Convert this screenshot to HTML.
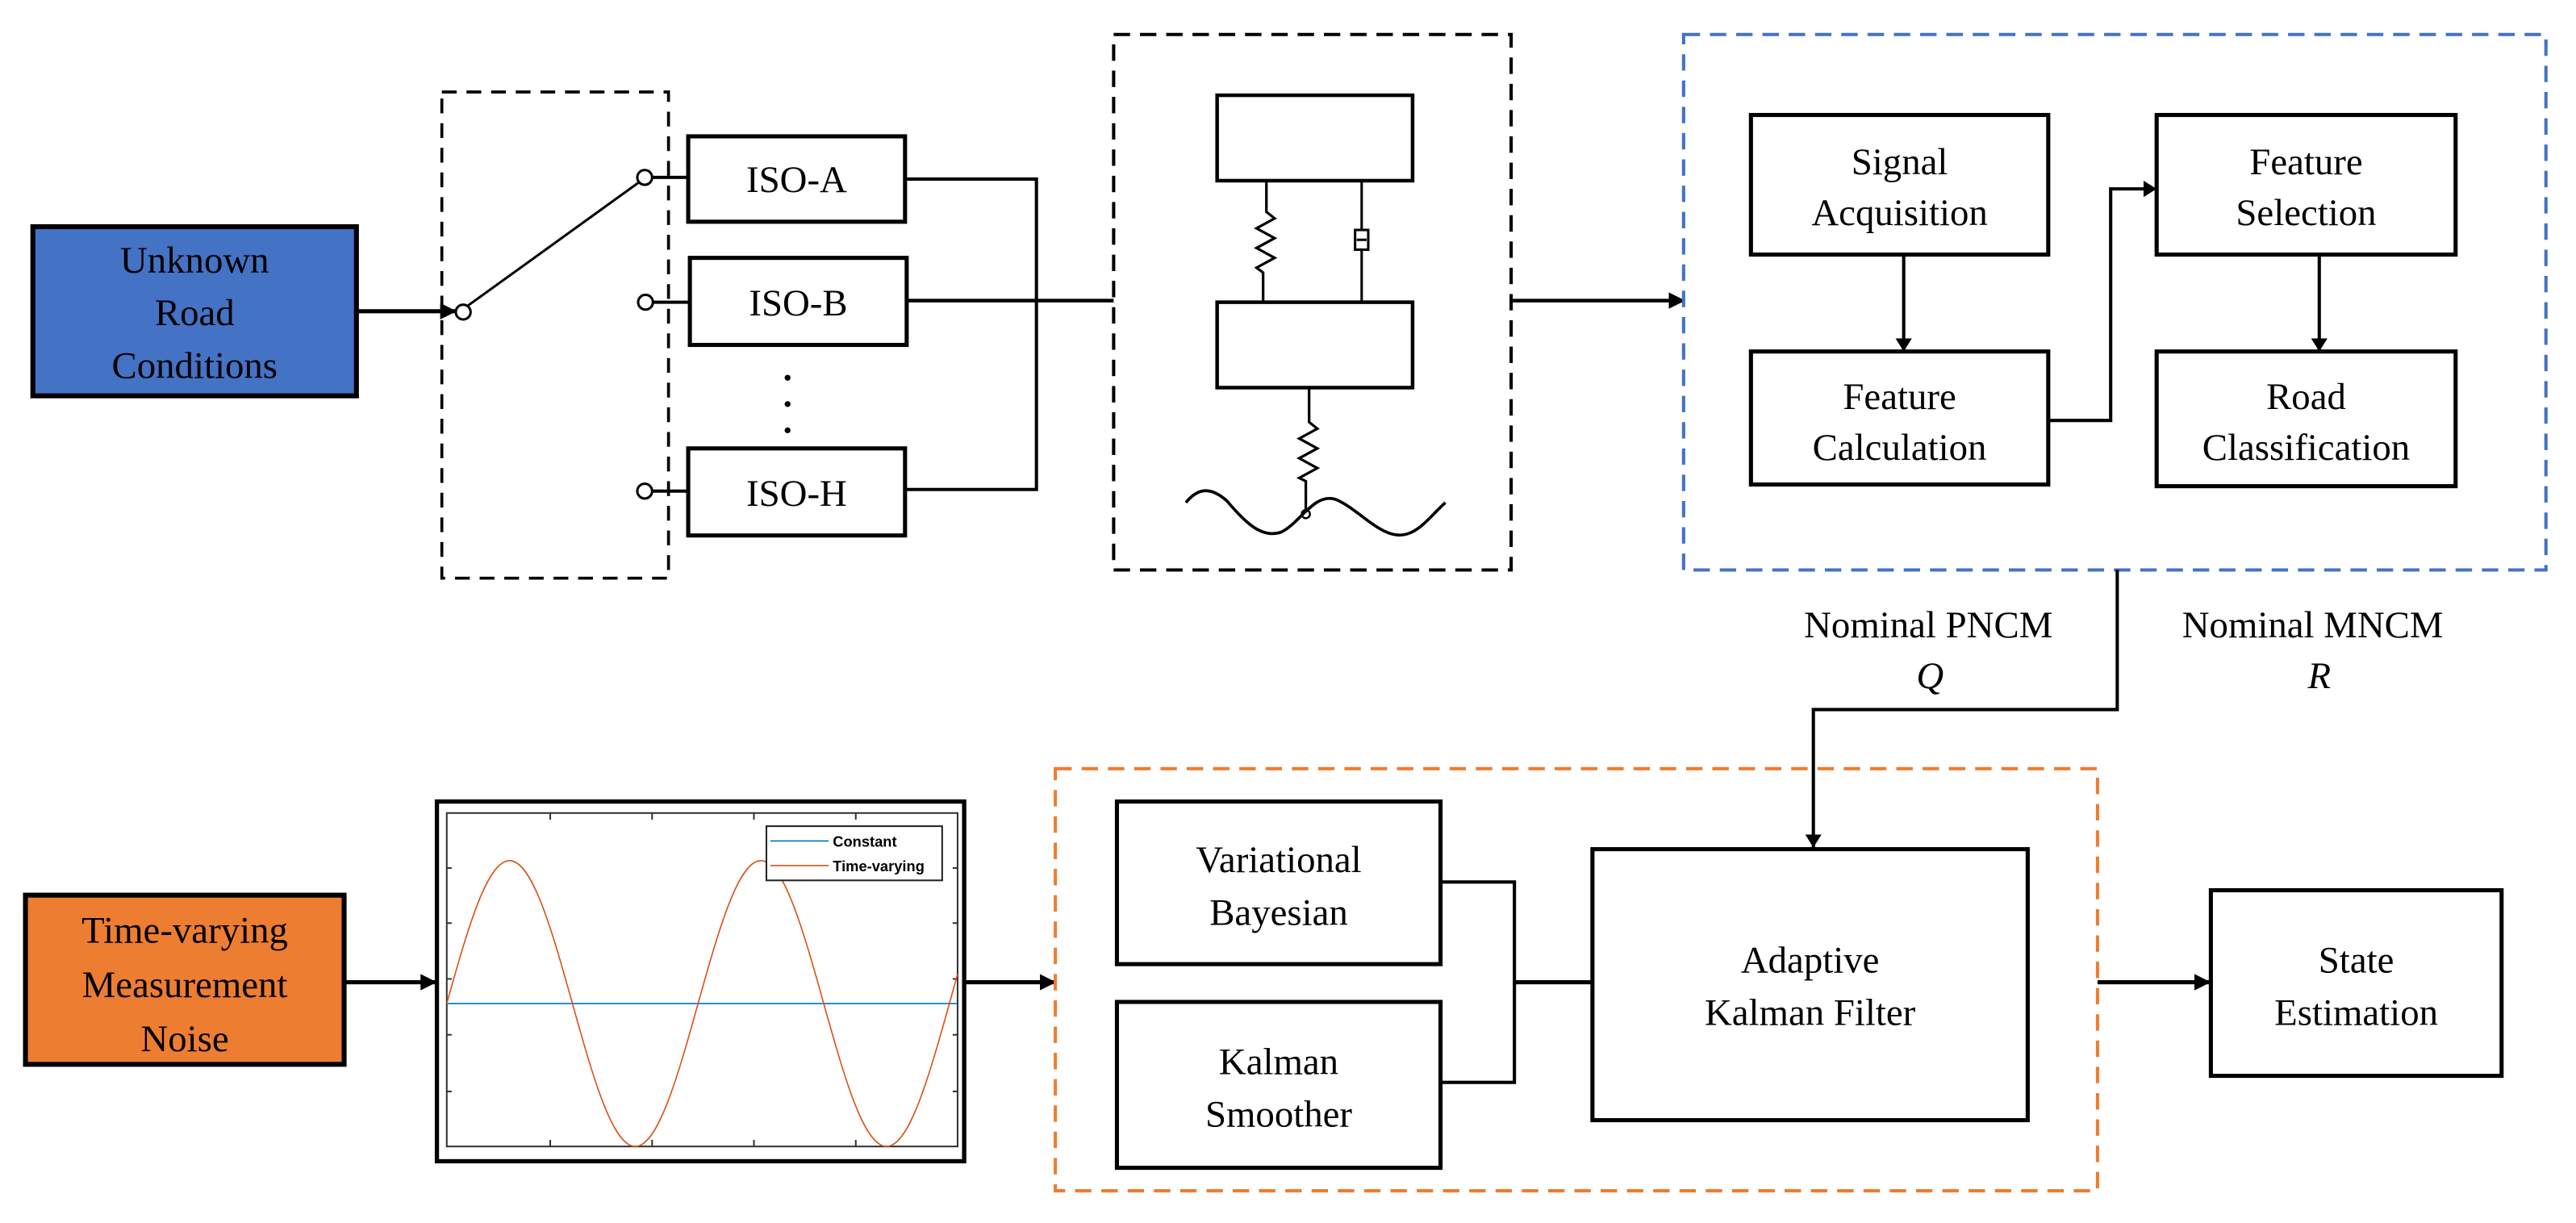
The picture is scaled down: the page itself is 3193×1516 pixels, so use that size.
<!DOCTYPE html>
<html><head><meta charset="utf-8"><style>
html,body{margin:0;padding:0;background:#fff;}
svg{display:block;}
</style></head><body>
<svg width="3193" height="1516" viewBox="0 0 1568.3 744.6" preserveAspectRatio="none" xmlns="http://www.w3.org/2000/svg">
<defs>
<marker id="ah" markerWidth="10" markerHeight="10" refX="9" refY="5" orient="auto" markerUnits="userSpaceOnUse"><path d="M0,0 L10,5 L0,10 Z" fill="#000"/></marker>
<marker id="ahs" markerWidth="8" markerHeight="10" refX="8" refY="5" orient="auto" markerUnits="userSpaceOnUse"><path d="M0,0 L8,5 L0,10 Z" fill="#000"/></marker>
</defs>
<rect x="0" y="0" width="1568.3" height="744.6" fill="#fff"/>
<g font-family="Liberation Serif, DejaVu Serif, serif" font-size="23" fill="#000">

<!-- Unknown Road Conditions -->
<rect x="20" y="138" width="197" height="103" fill="#4472c4" stroke="#000" stroke-width="3"/>
<text x="118.5" y="166" text-anchor="middle">Unknown</text>
<text x="118.5" y="198" text-anchor="middle">Road</text>
<text x="118.5" y="230" text-anchor="middle">Conditions</text>
<line x1="217" y1="189.5" x2="277" y2="189.5" stroke="#000" stroke-width="2.5" marker-end="url(#ah)"/>

<!-- switch dashed box -->
<rect x="269" y="56" width="138" height="296" fill="none" stroke="#000" stroke-width="1.8" stroke-dasharray="9,6"/>
<line x1="285" y1="186" x2="389" y2="111" stroke="#000" stroke-width="1.5"/>
<circle cx="282" cy="190" r="4.5" fill="#fff" stroke="#000" stroke-width="1.5"/>
<circle cx="392.5" cy="108" r="4.5" fill="#fff" stroke="#000" stroke-width="1.5"/>
<circle cx="393" cy="184" r="4.5" fill="#fff" stroke="#000" stroke-width="1.5"/>
<circle cx="392.5" cy="299" r="4.5" fill="#fff" stroke="#000" stroke-width="1.5"/>
<line x1="397" y1="108" x2="419" y2="108" stroke="#000" stroke-width="2"/>
<line x1="397.5" y1="184" x2="420" y2="184" stroke="#000" stroke-width="2"/>
<line x1="397" y1="299" x2="419" y2="299" stroke="#000" stroke-width="2"/>

<rect x="419" y="83" width="132" height="52" fill="#fff" stroke="#000" stroke-width="2.5"/>
<text x="485" y="117" text-anchor="middle">ISO-A</text>
<rect x="420" y="157" width="132" height="53" fill="#fff" stroke="#000" stroke-width="2.5"/>
<text x="486" y="192" text-anchor="middle">ISO-B</text>
<rect x="419" y="273" width="132" height="53" fill="#fff" stroke="#000" stroke-width="2.5"/>
<text x="485" y="308" text-anchor="middle">ISO-H</text>
<circle cx="479.5" cy="230" r="1.8" fill="#000"/>
<circle cx="479.5" cy="246" r="1.8" fill="#000"/>
<circle cx="479.5" cy="262" r="1.8" fill="#000"/>
<polyline points="551,109 631,109 631,298 551,298" fill="none" stroke="#000" stroke-width="2"/>
<line x1="552" y1="183" x2="678" y2="183" stroke="#000" stroke-width="2.2"/>

<!-- quarter car -->
<rect x="678" y="21" width="242" height="326" fill="none" stroke="#000" stroke-width="2" stroke-dasharray="10,6"/>
<rect x="741" y="58" width="119" height="52" fill="#fff" stroke="#000" stroke-width="2.2"/>
<rect x="741" y="184" width="119" height="52" fill="#fff" stroke="#000" stroke-width="2.2"/>
<polyline points="771,110 771,129 776,133 765,139 776,145 765,151 776,157 765,163 769,166 769,184" fill="none" stroke="#000" stroke-width="1.6"/>
<polyline points="829,110 829,184" fill="none" stroke="#000" stroke-width="1.5"/>
<rect x="825" y="140" width="8" height="12" fill="#fff" stroke="#000" stroke-width="1.5"/>
<line x1="826" y1="146" x2="832" y2="146" stroke="#000" stroke-width="1.5"/>
<polyline points="797,236 797,257 802,261 791,267 802,273 791,279 802,285 791,291 795,293 795,315" fill="none" stroke="#000" stroke-width="1.6"/>
<circle cx="795" cy="313" r="2.5" fill="#fff" stroke="#000" stroke-width="1.2"/>
<path d="M722,306 C730,296 738,297 747,305 C758,318 768,328 780,324 C792,318 800,300 813,304 C828,310 842,330 857,325 C866,322 872,313 880,306" fill="none" stroke="#000" stroke-width="1.8"/>
<line x1="920" y1="183" x2="1025" y2="183" stroke="#000" stroke-width="2.2" marker-end="url(#ah)"/>

<!-- blue dashed -->
<rect x="1025" y="21" width="525" height="326" fill="none" stroke="#4472c4" stroke-width="2" stroke-dasharray="10,6"/>
<rect x="1066" y="70" width="181" height="85" fill="#fff" stroke="#000" stroke-width="2.5"/>
<text x="1156.5" y="106" text-anchor="middle">Signal</text>
<text x="1156.5" y="137" text-anchor="middle">Acquisition</text>
<rect x="1066" y="214" width="181" height="81" fill="#fff" stroke="#000" stroke-width="2.5"/>
<text x="1156.5" y="249" text-anchor="middle">Feature</text>
<text x="1156.5" y="280" text-anchor="middle">Calculation</text>
<rect x="1313" y="70" width="182" height="85" fill="#fff" stroke="#000" stroke-width="2.5"/>
<text x="1404" y="106" text-anchor="middle">Feature</text>
<text x="1404" y="137" text-anchor="middle">Selection</text>
<rect x="1313" y="214" width="182" height="82" fill="#fff" stroke="#000" stroke-width="2.5"/>
<text x="1404" y="249" text-anchor="middle">Road</text>
<text x="1404" y="280" text-anchor="middle">Classification</text>
<line x1="1159" y1="155" x2="1159" y2="214" stroke="#000" stroke-width="2" marker-end="url(#ahs)"/>
<line x1="1412" y1="155" x2="1412" y2="214" stroke="#000" stroke-width="2" marker-end="url(#ahs)"/>
<polyline points="1247,256 1285,256 1285,115 1313,115" fill="none" stroke="#000" stroke-width="2" marker-end="url(#ahs)"/>

<polyline points="1289,347 1289,432 1104,432 1104,516" fill="none" stroke="#000" stroke-width="2" marker-end="url(#ahs)"/>
<text x="1174" y="388" text-anchor="middle">Nominal PNCM</text>
<text x="1175" y="419" text-anchor="middle" font-style="italic">Q</text>
<text x="1408" y="388" text-anchor="middle">Nominal MNCM</text>
<text x="1412" y="419" text-anchor="middle" font-style="italic">R</text>

<!-- Time-varying noise -->
<rect x="15.5" y="545" width="194" height="103" fill="#ed7d31" stroke="#000" stroke-width="3"/>
<text x="112.5" y="574" text-anchor="middle">Time-varying</text>
<text x="112.5" y="607" text-anchor="middle">Measurement</text>
<text x="112.5" y="640" text-anchor="middle">Noise</text>
<line x1="210" y1="598" x2="265" y2="598" stroke="#000" stroke-width="2.5" marker-end="url(#ah)"/>

<!-- plot -->
<rect x="266" y="488" width="321" height="219" fill="#fff" stroke="#000" stroke-width="2.6"/>
<rect x="272" y="495" width="311" height="203" fill="none" stroke="#333" stroke-width="1"/>
<g stroke="#333" stroke-width="1">
<line x1="335" y1="495" x2="335" y2="499"/><line x1="397" y1="495" x2="397" y2="499"/><line x1="459" y1="495" x2="459" y2="499"/><line x1="521" y1="495" x2="521" y2="499"/>
<line x1="335" y1="698" x2="335" y2="694"/><line x1="397" y1="698" x2="397" y2="694"/><line x1="459" y1="698" x2="459" y2="694"/><line x1="521" y1="698" x2="521" y2="694"/>
<line x1="272" y1="528.5" x2="275" y2="528.5"/><line x1="272" y1="562" x2="275" y2="562"/><line x1="272" y1="596" x2="275" y2="596"/><line x1="272" y1="630" x2="275" y2="630"/><line x1="272" y1="664.5" x2="275" y2="664.5"/>
<line x1="583" y1="528.5" x2="580" y2="528.5"/><line x1="583" y1="562" x2="580" y2="562"/><line x1="583" y1="596" x2="580" y2="596"/><line x1="583" y1="630" x2="580" y2="630"/><line x1="583" y1="664.5" x2="580" y2="664.5"/>
</g>
<line x1="272" y1="611" x2="583" y2="611" stroke="#0072bd" stroke-width="0.8"/>
<path d="M272,611 C284.47,566.43 296.41,524 310.25,524 C324.09,524 336.03,566.43 348.5,611 C360.97,655.57 372.91,698 386.75,698 C400.59,698 412.53,655.57 425,611 C437.47,566.43 449.41,524 463.25,524 C477.09,524 489.03,566.43 501.5,611 C513.97,655.57 525.91,698 539.75,698 C553.59,698 565.53,655.57 578,611 L583,593" fill="none" stroke="#d95319" stroke-width="0.8"/>
<rect x="466.6" y="503" width="107" height="33" fill="#fff" stroke="#222" stroke-width="1"/>
<line x1="469" y1="512" x2="504.5" y2="512" stroke="#0072bd" stroke-width="0.8"/>
<line x1="469" y1="527" x2="504.5" y2="527" stroke="#d95319" stroke-width="0.8"/>
<text x="507" y="515.5" font-family="Liberation Sans, DejaVu Sans, sans-serif" font-size="9" font-weight="bold">Constant</text>
<text x="507" y="530.5" font-family="Liberation Sans, DejaVu Sans, sans-serif" font-size="9" font-weight="bold">Time-varying</text>
<line x1="587" y1="598" x2="642" y2="598" stroke="#000" stroke-width="2.5" marker-end="url(#ah)"/>

<!-- orange dashed -->
<rect x="642.5" y="468" width="634.5" height="257" fill="none" stroke="#ed7d31" stroke-width="2" stroke-dasharray="10,6"/>
<rect x="680" y="488" width="197" height="99" fill="#fff" stroke="#000" stroke-width="2.5"/>
<text x="778.5" y="531" text-anchor="middle">Variational</text>
<text x="778.5" y="563" text-anchor="middle">Bayesian</text>
<rect x="680" y="610" width="197" height="101" fill="#fff" stroke="#000" stroke-width="2.5"/>
<text x="778.5" y="654" text-anchor="middle">Kalman</text>
<text x="778.5" y="686" text-anchor="middle">Smoother</text>
<polyline points="877,537 922,537 922,659 877,659" fill="none" stroke="#000" stroke-width="2"/>
<line x1="922" y1="598" x2="969" y2="598" stroke="#000" stroke-width="2.5"/>
<rect x="969.5" y="517" width="265" height="165" fill="#fff" stroke="#000" stroke-width="2.5"/>
<text x="1102" y="592" text-anchor="middle">Adaptive</text>
<text x="1102" y="624" text-anchor="middle">Kalman Filter</text>
<line x1="1277" y1="598" x2="1345" y2="598" stroke="#000" stroke-width="2.5" marker-end="url(#ah)"/>
<rect x="1346" y="542" width="177" height="113" fill="#fff" stroke="#000" stroke-width="2.5"/>
<text x="1434.5" y="592" text-anchor="middle">State</text>
<text x="1434.5" y="624" text-anchor="middle">Estimation</text>
</g>
</svg>
</body></html>
